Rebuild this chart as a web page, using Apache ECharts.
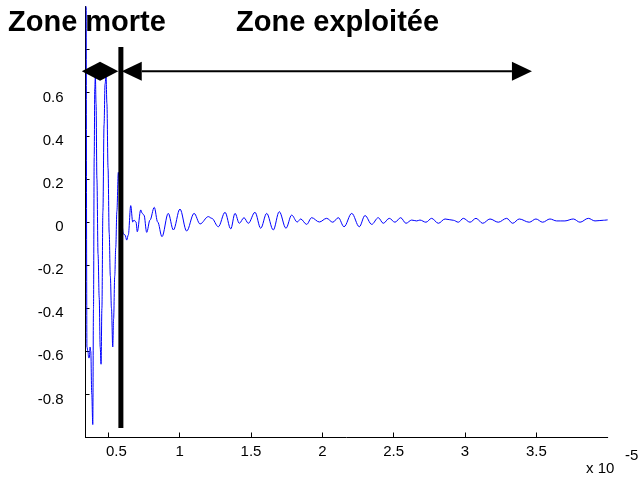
<!DOCTYPE html>
<html>
<head>
<meta charset="utf-8">
<script src="https://cdn.jsdelivr.net/npm/echarts@6/dist/echarts.min.js"></script>
<style>
html,body{margin:0;padding:0;background:#fff;}
#chart{width:642px;height:483px;}
</style>
</head>
<body>
<div id="chart"></div>
<script>
// time axis (x 10^-5 s)
const time = [
0.345,0.350,0.357,0.362,0.367,0.372,0.377,0.384,0.391,0.396,0.401,0.405,0.409,0.414,0.420,0.428,0.436,0.443,0.449,0.455,
0.462,0.470,0.477,0.484,0.490,0.498,0.506,0.514,0.522,0.531,0.537,0.545,0.552,0.560,0.570,0.580,0.592,0.605,0.617,0.629,
0.640,0.657,0.671,0.680,0.694,0.703,0.727,0.738,0.750,0.769,0.792,0.822,0.846,0.876,0.920,0.956,1.002,1.049,1.101,1.143,
1.201,1.225,1.271,1.318,1.358,1.388,1.418,1.451,1.481,1.528,1.568,1.610,1.656,1.698,1.745,1.785,1.824,1.848,1.890,1.925,
1.979,2.030,2.073,2.112,2.152,2.206,2.259,2.299,2.346,2.392,2.427,2.469,2.509,2.549,2.586,2.626,2.661,2.684,2.726,2.766,
2.813,2.860,2.918,2.953,2.988,3.035,3.077,3.124,3.175,3.233,3.292,3.334,3.380,3.450,3.497,3.544,3.595,3.642,3.700,3.759,
3.806,3.864,3.911,3.969,4.000
];
// signal amplitude
const amplitude = [
1.00,-0.58,-0.60,-0.63,-0.63,-0.58,-0.60,-0.80,-0.94,-0.40,0.30,0.62,0.68,0.55,0.20,-0.15,-0.35,-0.58,-0.66,-0.40,
0.05,0.45,0.64,0.68,0.55,0.25,-0.05,-0.25,-0.40,-0.58,-0.45,-0.25,-0.12,0.05,0.23,0.15,0.02,-0.055,-0.06,-0.084,
-0.06,0.076,0.0,0.009,0.0,-0.045,0.056,0.04,0.032,-0.048,0.009,0.068,0.0,-0.068,0.04,-0.037,0.06,-0.042,0.04,-0.009,
0.025,0.017,-0.022,0.045,-0.032,0.04,-0.006,0.02,-0.006,0.045,-0.029,0.04,-0.037,0.048,-0.029,0.032,0.0,0.014,-0.011,0.02,
0.0,0.017,-0.001,0.02,-0.022,0.04,-0.022,0.03,-0.011,0.02,-0.006,0.017,-0.001,0.02,-0.006,0.009,0.005,0.009,-0.001,0.017,
-0.006,0.014,0.008,-0.001,0.017,-0.001,0.017,-0.006,0.014,-0.001,0.017,-0.006,0.014,-0.001,0.014,-0.001,0.014,0.005,0.005,0.014,
-0.001,0.017,0.005,0.008,0.01
];
const xTicks = [0.5,1,1.5,2,2.5,3,3.5];
const yTicks = [-0.8,-0.6,-0.4,-0.2,0,0.2,0.4,0.6,0.8];
const yLabels = [-0.8,-0.6,-0.4,-0.2,0,0.2,0.4,0.6];
// annotation positions in data coordinates
const deadZoneEnd = 0.588;      // thick vertical separator
const separatorTop = 0.812;
const separatorBottom = -0.956;
const arrowLevel = 0.70;
const deadArrowStart = 0.314;
const deadArrowMid = 0.442;
const deadArrowEnd = 0.570;
const usedArrowStart = 0.594;
const usedArrowEnd = 3.469;
const titles = ['Zone morte', 'Zone exploitée'];

const FONT = '"Liberation Sans", Arial, sans-serif';
const chart = echarts.init(document.getElementById('chart'), null, {renderer:'canvas'});
const seriesData = time.map((t,i)=>[t, amplitude[i]]);

chart.setOption({
  animation:false,
  backgroundColor:'#fff',
  grid:{left:85.5, right:34.3, top:6.5, bottom:45.5, containLabel:false},
  xAxis:{
    type:'value', min:0.34, max:4.0,
    axisLine:{show:true, onZero:false, lineStyle:{color:'#000', width:1}},
    axisTick:{show:true, inside:true, length:5, customValues:xTicks, lineStyle:{color:'#000'}},
    axisLabel:{show:true, customValues:xTicks, margin:7, color:'#000', fontFamily:FONT, fontSize:15,
      formatter:(v)=> (Math.abs(v-0.5)<1e-9 ? '{s|'+String(+v.toFixed(1))+'}' : String(+v.toFixed(1))),
      rich:{s:{padding:[0,0,0,16], fontFamily:FONT, fontSize:15, color:'#000'}}},
    splitLine:{show:false}
  },
  yAxis:{
    type:'value', min:-1, max:1,
    axisLine:{show:true, lineStyle:{color:'#000', width:1}},
    axisTick:{show:true, inside:true, length:4, customValues:yTicks, lineStyle:{color:'#000'}},
    axisLabel:{show:true, customValues:yLabels, margin:22, color:'#000', fontFamily:FONT, fontSize:15,
      verticalAlign:'top', lineHeight:10,
      formatter:(v)=> String(+v.toFixed(1))},
    splitLine:{show:false}
  },
  series:[{
    type:'line', data:seriesData, showSymbol:false, symbol:'none', clip:true,
    smooth:0.35, smoothMonotone:'x',
    lineStyle:{color:'#0000ff', width:1}, z:2
  }]
});

function px(x,y){ return chart.convertToPixel({xAxisIndex:0,yAxisIndex:0},[x,y]); }
const a0 = px(deadArrowStart, arrowLevel), am = px(deadArrowMid, arrowLevel), a1 = px(deadArrowEnd, arrowLevel);
const b0 = px(usedArrowStart, arrowLevel), b1 = px(usedArrowEnd, arrowLevel);
const sTop = px(deadZoneEnd, separatorTop), sBot = px(deadZoneEnd, separatorBottom);
const hh = 9.5, hl = 20;
const ay = a0[1];
chart.setOption({
  graphic:[
    {type:'text', left:8, top:8, z:10, style:{text:titles[0], font:'bold 29px '+FONT, fill:'#000'}},
    {type:'text', left:236, top:8, z:10, style:{text:titles[1], font:'bold 29px '+FONT, fill:'#000'}},
    {type:'line', z:20, shape:{x1:sTop[0], y1:sTop[1], x2:sBot[0], y2:sBot[1]}, style:{stroke:'#000', lineWidth:5}},
    {type:'polygon', z:20, shape:{points:[[a0[0],ay],[am[0],ay-hh],[a1[0],ay],[am[0],ay+hh]]}, style:{fill:'#000'}},
    {type:'line', z:20, shape:{x1:b0[0]+hl, y1:ay, x2:b1[0]-hl, y2:ay}, style:{stroke:'#000', lineWidth:2}},
    {type:'polygon', z:20, shape:{points:[[b0[0],ay],[b0[0]+hl,ay-hh],[b0[0]+hl,ay+hh]]}, style:{fill:'#000'}},
    {type:'polygon', z:20, shape:{points:[[b1[0],ay],[b1[0]-hl,ay-hh],[b1[0]-hl,ay+hh]]}, style:{fill:'#000'}},
    {type:'text', left:586, top:461, z:10, style:{text:'x 10', font:'15px '+FONT, fill:'#000'}},
    {type:'text', left:625, top:448, z:10, style:{text:'-5', font:'15px '+FONT, fill:'#000'}}
  ]
});
</script>
</body>
</html>
